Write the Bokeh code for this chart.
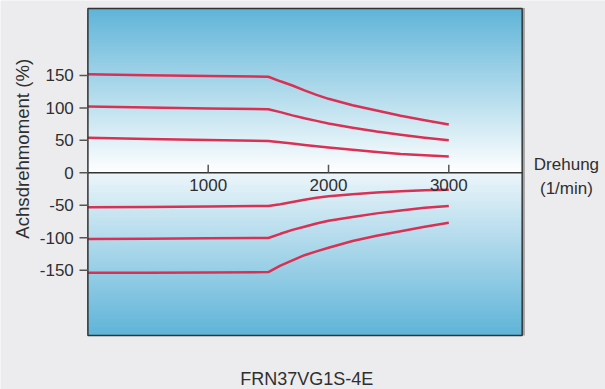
import math

from bokeh.core.properties import value
from bokeh.embed import file_html
from bokeh.models import Range1d
from bokeh.plotting import figure
from bokeh.resources import INLINE

# Shaft speed (1/min) at which each torque curve is sampled
rpm = [0, 500, 1000, 1500, 1600, 1700, 1800, 1900, 2000, 2200, 2400, 2600, 2800, 3000]

# Motoring torque limits (%)
torque_pos_150 = [152, 150.5, 149, 148, 141, 134.5, 127, 120, 114, 104, 96, 88, 81, 74.5]
torque_pos_100 = [102, 100.5, 99, 98, 93.5, 88.5, 84, 80, 76, 69.5, 63.5, 58.5, 54, 50]
torque_pos_50 = [54, 52, 50.5, 49, 47, 45, 43, 41, 39, 35.5, 32, 29, 27, 25]

# Braking torque limits (%)
torque_neg_50 = [-53, -52.5, -52, -51, -48.5, -45, -41.5, -38.5, -36, -33, -30.5, -28.5, -27, -26]
torque_neg_100 = [-102, -101.5, -101, -100.5, -94, -88, -83, -78, -74, -68, -62.5, -58, -54, -51]
torque_neg_150 = [-154, -154, -153.5, -153, -143, -135, -127, -121, -115.5, -105, -97, -90, -83, -77]

x_ticks = [1000, 2000, 3000]
x_tick_labels = ["1000", "2000", "3000"]
y_ticks = [-150, -100, -50, 0, 50, 100, 150]
y_tick_labels = ["-150", "-100", "-50", "0", "50", "100", "150"]

FONT = value("Liberation Sans")
TEXT_COLOR = "#2f2f2f"
CURVE_COLOR = "#da3053"
BG = "#ececee"

# Extent of the chart box in data units
X_MAX = 3610
Y_MIN, Y_MAX = -250.7, 253

# Canvas spans a little more than the box so the titles fit around it
p = figure(
    width=605,
    height=389,
    output_backend="svg",
    toolbar_location=None,
    x_range=Range1d(-726.5, 4302.6),
    y_range=Range1d(-333.9, 265.5),
    x_axis_location=None,
    y_axis_location=None,
    min_border=0,
)
p.border_fill_color = BG
p.background_fill_color = BG
p.outline_line_color = None
p.grid.visible = False

# Vertical gradient: white at zero torque, blue towards top and bottom.
# Nested boxes (largest first) avoid seams between bands.
blue = (95, 180, 216)
n_bands = 100


def mix(c0, c1, t):
    return "#%02x%02x%02x" % tuple(int(round(a + (b - a) * t)) for a, b in zip(c0, c1))


steps = list(range(n_bands, 0, -1))
p.quad(
    left=0, right=X_MAX, bottom=0,
    top=[Y_MAX * k / n_bands for k in steps],
    fill_color=[mix((255, 255, 255), blue, (k - 0.5) / n_bands) for k in steps],
    line_color=None,
)
p.quad(
    left=0, right=X_MAX, top=0,
    bottom=[Y_MIN * k / n_bands for k in steps],
    fill_color=[mix((236, 245, 250), blue, (k - 0.5) / n_bands) for k in steps],
    line_color=None,
)

# Torque curves
for series in (torque_pos_150, torque_pos_100, torque_pos_50,
               torque_neg_50, torque_neg_100, torque_neg_150):
    p.line(rpm, series, line_color=CURVE_COLOR, line_width=2.5, line_join="round")

# Box frame with a soft shade on its right side
p.segment(x0=[3624], y0=[Y_MIN], x1=[3624], y1=[Y_MAX + 1], line_color="#a0a0a4", line_width=2)
p.quad(left=0, right=X_MAX, bottom=Y_MIN, top=Y_MAX, fill_color=None,
       line_color="#333333", line_width=1.5)

# Speed axis through zero torque
p.segment(x0=[0], y0=[0], x1=[X_MAX], y1=[0], line_color="#333333", line_width=1.5)
p.segment(x0=x_ticks, y0=[0] * 3, x1=x_ticks, y1=[12.5] * 3, line_color="#555555", line_width=1.5)
p.text(
    x=x_ticks, y=[0] * 3, text=x_tick_labels,
    text_font=FONT, text_font_size="17px", text_color=TEXT_COLOR,
    text_align="center", text_baseline="alphabetic", y_offset=12,
)

# Torque axis
p.segment(x0=[-70] * 7, y0=y_ticks, x1=[0] * 7, y1=y_ticks, line_color="#555555", line_width=1.5)
p.text(
    x=[-117] * 7, y=y_ticks, text=y_tick_labels,
    text_font=FONT, text_font_size="17px", text_color=TEXT_COLOR,
    text_align="right", text_baseline="middle",
)

# Axis titles and caption
p.text(
    x=[-540], y=[37], text=["Achsdrehmoment (%)"], angle=math.pi / 2,
    text_font=FONT, text_font_size="18.6px", text_color=TEXT_COLOR,
    text_align="center", text_baseline="middle",
)
p.text(
    x=[3978, 3978], y=[13.5, -23.5], text=["Drehung", "(1/min)"],
    text_font=FONT, text_font_size="17px", text_color=TEXT_COLOR,
    text_align="center", text_baseline="alphabetic",
)
p.text(
    x=[1820], y=[-317.5], text=["FRN37VG1S-4E"],
    text_font=FONT, text_font_size="18px", text_color=TEXT_COLOR,
    text_align="center", text_baseline="alphabetic",
)

open("out.html", "w").write(file_html(p, INLINE))
